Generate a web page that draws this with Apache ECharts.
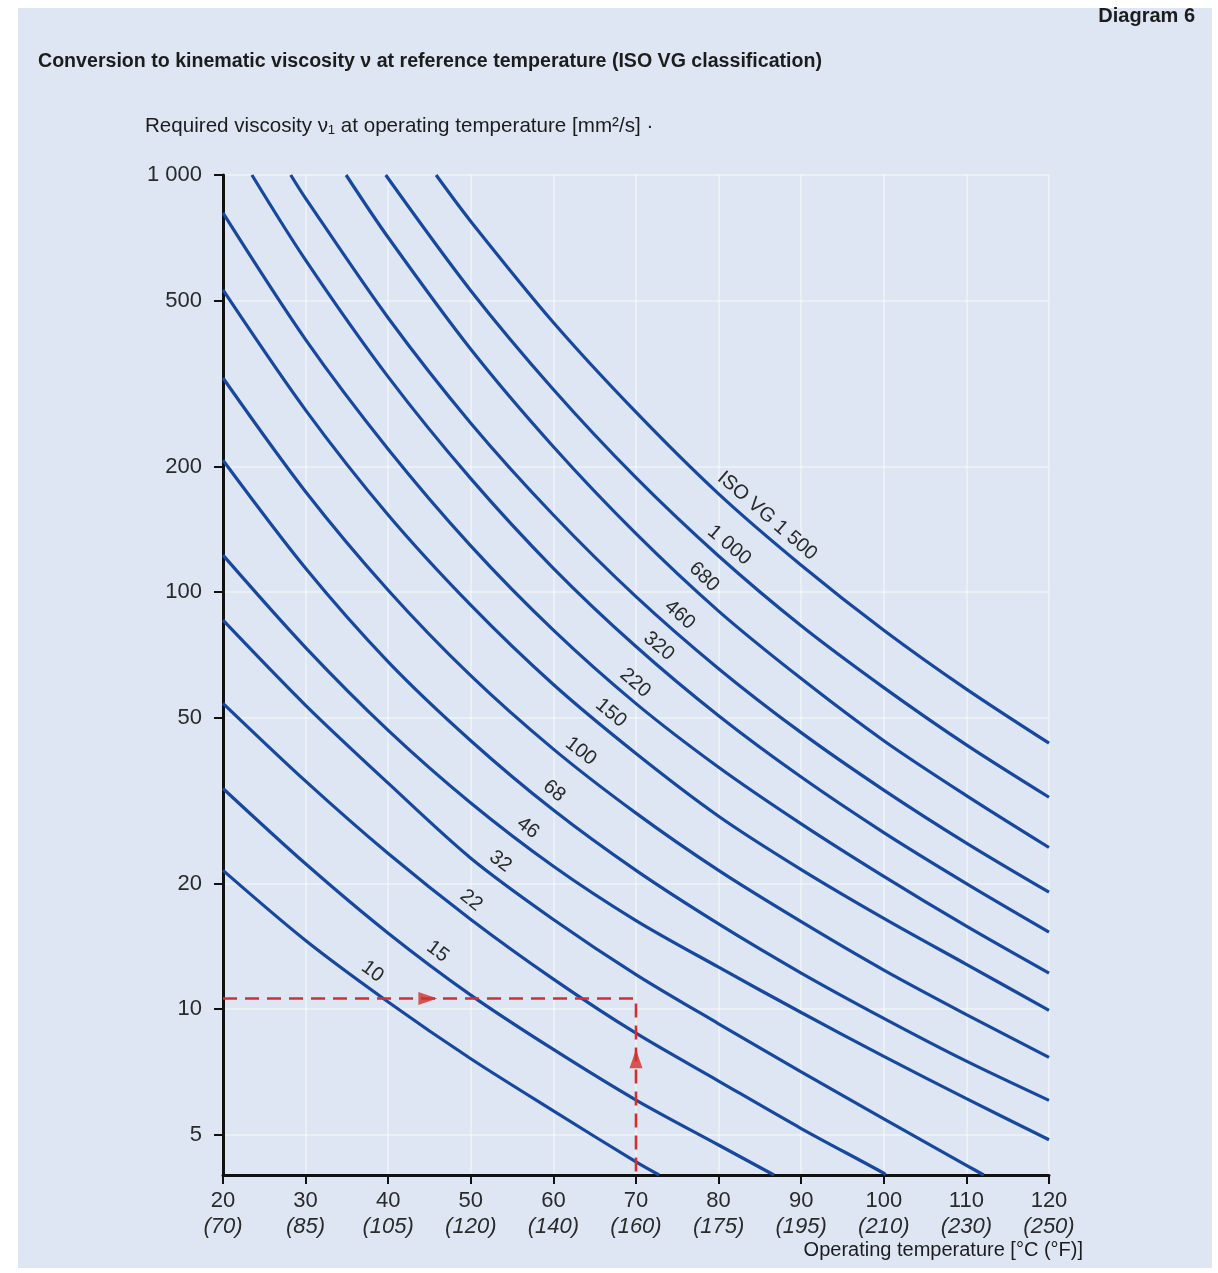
<!DOCTYPE html>
<html>
<head>
<meta charset="utf-8">
<title>Conversion to kinematic viscosity (ISO VG)</title>
<script src="https://cdn.jsdelivr.net/npm/echarts@6/dist/echarts.min.js"></script>
<style>
  html, body { margin: 0; padding: 0; background: #ffffff; }
  #sheet { position: absolute; left: 18px; top: 8px; width: 1194px; height: 1260px; background: #dde6f2; }
  #chart { position: absolute; left: 0; top: 0; width: 1218px; height: 1273px; }
</style>
</head>
<body>
<div id="sheet"></div>
<div id="chart"></div>
<script>
// ---- axis ticks ----
const tempTicksC = [20, 30, 40, 50, 60, 70, 80, 90, 100, 110, 120];
const tempTicksF = [70, 85, 105, 120, 140, 160, 175, 195, 210, 230, 250];
const viscTicks = [5, 10, 20, 50, 100, 200, 500, 1000];

// ---- ISO VG curves: [temperature °C, viscosity mm²/s] ----
const gradeNames = ['10', '15', '22', '32', '46', '68', '100', '150', '220', '320', '460', '680', '1 000', 'ISO VG 1 500'];
const vg10   = [[20, 21.5], [30, 14.6], [40, 10.4], [50, 7.6], [60, 5.7], [70, 4.3], [72.8, 4]];
const vg15   = [[20, 33.8], [30, 22.3], [40, 15.2], [50, 10.8], [60, 8.0], [70, 6.05], [80, 4.72], [86.7, 4]];
const vg22   = [[20, 54.1], [30, 35.2], [40, 23.6], [50, 16.4], [60, 11.8], [70, 8.75], [80, 6.72], [90, 5.17], [100, 4.04], [100.2, 4]];
const vg32   = [[20, 85.6], [30, 53.5], [40, 34.8], [50, 23.0], [60, 16.4], [70, 12.1], [80, 9.22], [90, 7.07], [100, 5.45], [110, 4.22], [112.1, 4]];
const vg46   = [[20, 122.6], [30, 73.6], [40, 46.6], [50, 31.2], [60, 22.0], [70, 16.3], [80, 12.6], [90, 9.81], [100, 7.70], [110, 6.10], [120, 4.86]];
const vg68   = [[20, 207], [30, 114], [40, 68], [50, 44], [60, 30], [70, 21.5], [80, 16], [90, 12.2], [100, 9.5], [110, 7.5], [120, 6.04]];
const vg100  = [[20, 326], [30, 174], [40, 101], [50, 63], [60, 42], [70, 29.5], [80, 21.5], [90, 16.2], [100, 12.4], [110, 9.7], [120, 7.66]];
const vg150  = [[20, 530], [30, 273], [40, 153], [50, 93], [60, 60], [70, 41], [80, 29.0], [90, 21.6], [100, 16.5], [110, 12.8], [120, 9.93]];
const vg220  = [[20, 811], [30, 403], [40, 220], [50, 129], [60, 81], [70, 54], [80, 38], [90, 27.8], [100, 20.8], [110, 15.8], [120, 12.19]];
const vg320  = [[23.5, 1000], [30, 625], [40, 328], [50, 187], [60, 114], [70, 74], [80, 50.5], [90, 36], [100, 26.5], [110, 20], [120, 15.3]];
const vg460  = [[28.2, 1000], [30, 879], [40, 454], [50, 254], [60, 153], [70, 97.5], [80, 65.5], [90, 46], [100, 33.5], [110, 25], [120, 19.06]];
const vg680  = [[34.9, 1000], [40, 708], [50, 382], [60, 223], [70, 138], [80, 90], [90, 62], [100, 44], [110, 32.5], [120, 24.4]];
const vg1000 = [[39.7, 1000], [50, 528], [60, 306], [70, 188], [80, 122], [90, 83], [100, 59], [110, 43], [120, 32.2]];
const vg1500 = [[45.8, 1000], [50, 774], [60, 443], [70, 270], [80, 172], [90, 116], [100, 81], [110, 58.5], [120, 43.4]];

// ---- worked example: operating temperature 70 °C ----
const exampleTemp = 70;
const exampleVisc = 10.6;
const arrowRightAtTemp = 44.8;
const arrowUpAtVisc = 7.6;

const curves = [vg10, vg15, vg22, vg32, vg46, vg68, vg100, vg150, vg220, vg320, vg460, vg680, vg1000, vg1500];

// where along each curve (°C) its grade label sits, and its gap from the line (px)
const labelLayout = {
  temps: [37.0, 44.9, 48.9, 52.5, 55.8, 58.9, 62.2, 65.8, 68.7, 71.6, 74.1, 77.0, 80.1, 84.7],
  gap: 15
};

const BLUE = '#17489f';
const RED = '#d2302c';
const INK = '#1c1c1c';
const TICK_FONT = "'Liberation Sans', Arial, sans-serif";

const chart = echarts.init(document.getElementById('chart'), null, { renderer: 'canvas' });

const fahrenheitOf = {};
tempTicksC.forEach((c, i) => { fahrenheitOf[c] = tempTicksF[i]; });

const option = {
  backgroundColor: 'transparent',
  animation: false,
  grid: { left: 223, top: 175, width: 826, height: 1000, containLabel: false },
  xAxis: {
    type: 'value', min: 20, max: 120, interval: 10,
    axisLine: { show: true, onZero: false, lineStyle: { color: '#111', width: 3 } },
    axisTick: { show: true, length: 9, lineStyle: { color: '#111', width: 2 } },
    axisLabel: {
      margin: 13,
      formatter: v => `{c|${v}}\n{f|(${fahrenheitOf[v]})}`,
      rich: {
        c: { fontFamily: TICK_FONT, fontSize: 22, color: '#2a2a2a', lineHeight: 26 },
        f: { fontFamily: TICK_FONT, fontSize: 22, fontStyle: 'italic', color: '#2a2a2a', lineHeight: 26 }
      }
    },
    splitLine: { show: true, lineStyle: { color: 'rgba(255,255,255,0.55)', width: 1.5 } }
  },
  yAxis: {
    type: 'log', logBase: 10, min: 4, max: 1000,
    axisLine: { show: true, onZero: false, lineStyle: { color: '#111', width: 3 } },
    axisTick: { show: true, customValues: viscTicks, length: 9, lineStyle: { color: '#111', width: 2 } },
    axisLabel: {
      customValues: viscTicks, margin: 21,
      fontFamily: TICK_FONT, fontSize: 22, color: '#2a2a2a',
      formatter: v => (v >= 1000 ? String(v).replace(/(\d)(\d{3})$/, '$1 $2') : String(v))
    },
    splitLine: { show: true, lineStyle: { color: 'rgba(255,255,255,0.55)', width: 1.5 } },
    minorTick: { show: false },
    minorSplitLine: { show: false }
  },
  series: [
    ...curves.map((d, i) => ({
      type: 'line', name: gradeNames[i], data: d,
      smooth: 0.3, symbol: 'none', clip: true, silent: true, z: 2,
      lineStyle: { color: BLUE, width: 3.2 }
    })),
    {
      type: 'line', name: 'example', data: [[20, exampleVisc], [exampleTemp, exampleVisc], [exampleTemp, 4]],
      symbol: 'none', silent: true, z: 3,
      lineStyle: { color: RED, width: 2.6, type: [14, 8] }
    },
    {
      type: 'scatter', name: 'example arrows', silent: true, z: 4,
      symbol: 'triangle', symbolSize: [13, 19],
      itemStyle: { color: RED },
      data: [
        { value: [arrowRightAtTemp, exampleVisc], symbolRotate: -90 },
        { value: [exampleTemp, arrowUpAtVisc], symbolRotate: 0 }
      ]
    }
  ],
  graphic: [
    { type: 'text', right: 23, top: 6, style: { text: 'Diagram 6', font: "bold 20px 'Liberation Sans', Arial, sans-serif", fill: INK } },
    { type: 'text', left: 38, top: 52, style: { text: 'Conversion to kinematic viscosity ν at reference temperature (ISO VG classification)', font: "bold 19.6px 'Liberation Sans', Arial, sans-serif", fill: INK } },
    { type: 'text', left: 145, top: 116, style: { text: 'Required viscosity ν₁ at operating temperature [mm²/s] ·', font: "20.6px 'Liberation Sans', Arial, sans-serif", fill: INK } },
    { type: 'text', right: 135, top: 1240, style: { text: 'Operating temperature [°C (°F)]', font: "20px 'Liberation Sans', Arial, sans-serif", fill: INK } }
  ]
};

chart.setOption(option);

// Grade labels: placed on each curve through the chart's own coordinate system,
// lifted off the line and turned to follow it.
const labelGraphics = curves.map((pts, i) => {
  const t = labelLayout.temps[i];
  let k = 0;
  while (k < pts.length - 2 && pts[k + 1][0] < t) k++;
  const a = chart.convertToPixel({ gridIndex: 0 }, pts[k]);
  const b = chart.convertToPixel({ gridIndex: 0 }, pts[k + 1]);
  const f = (t - pts[k][0]) / (pts[k + 1][0] - pts[k][0]);
  const px = a[0] + (b[0] - a[0]) * f;
  const py = a[1] + (b[1] - a[1]) * f;
  const ang = Math.atan2(b[1] - a[1], b[0] - a[0]);
  const g = labelLayout.gap;
  return {
    type: 'text', silent: true, z: 10,
    x: px + g * Math.sin(ang), y: py - g * Math.cos(ang),
    rotation: -ang,
    style: {
      text: gradeNames[i], align: 'center', verticalAlign: 'middle',
      font: "20px 'Liberation Sans', Arial, sans-serif", fill: '#2a2a2a'
    }
  };
});

chart.setOption({ graphic: option.graphic.concat(labelGraphics) }, { replaceMerge: ['graphic'] });
</script>
</body>
</html>
